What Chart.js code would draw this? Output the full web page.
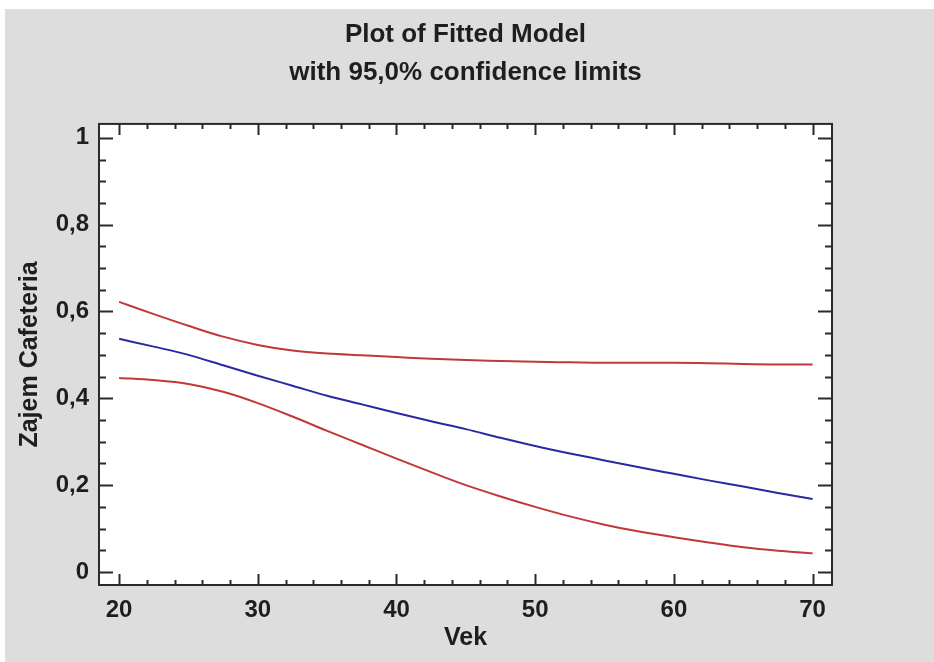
<!DOCTYPE html>
<html>
<head>
<meta charset="utf-8">
<title>Plot of Fitted Model</title>
<script src="https://cdn.jsdelivr.net/npm/chart.js@4.4.1/dist/chart.umd.min.js"></script>
<style>
    html, body { margin: 0; padding: 0; background: #ffffff; }
    #wrap { width: 934px; height: 662px; }
</style>
</head>
<body>
<div id="wrap"><canvas id="fitChart" width="934" height="662"></canvas></div>
<script>
// Ages (Vek) where the model was evaluated
const vek = [20, 22.5, 25, 27.5, 30, 32.5, 35, 37.5, 40, 42.5, 45, 47.5, 50, 52.5, 55, 57.5, 60, 62.5, 65, 67.5, 70];

// Fitted probability and 95% confidence limits
const fitted = [0.537, 0.519, 0.500, 0.476, 0.452, 0.429, 0.406, 0.386, 0.366, 0.347, 0.329, 0.309, 0.290, 0.273, 0.257, 0.241, 0.226, 0.211, 0.197, 0.182, 0.168];
const upperLimit = [0.622, 0.594, 0.567, 0.542, 0.523, 0.510, 0.503, 0.499, 0.495, 0.491, 0.488, 0.486, 0.484, 0.483, 0.482, 0.482, 0.482, 0.481, 0.479, 0.478, 0.478];
const lowerLimit = [0.447, 0.442, 0.433, 0.415, 0.389, 0.358, 0.325, 0.293, 0.261, 0.230, 0.200, 0.174, 0.150, 0.128, 0.109, 0.093, 0.080, 0.068, 0.057, 0.049, 0.043];

// Tick labels
const xTicks = [20, 30, 40, 50, 60, 70];
const yTicks = [0, 0.2, 0.4, 0.6, 0.8, 1];

const FONT = "'Liberation Sans', Arial, sans-serif";
const TEXT = '#1e1e1e';
const FRAME = '#2a2a2a';

const toPoints = (ys) => vek.map((x, i) => ({ x: x, y: ys[i] }));

// Panel background, white plot area, frame and inward ticks on all four sides
const framePlugin = {
    id: 'frame',
    beforeDraw(chart) {
        const ctx = chart.ctx;
        const a = chart.chartArea;
        ctx.save();
        ctx.fillStyle = '#ffffff';
        ctx.fillRect(0, 0, chart.width, chart.height);
        ctx.fillStyle = '#dddddd';
        ctx.fillRect(5, 9, chart.width - 5, chart.height - 9);
        ctx.fillStyle = '#ffffff';
        ctx.fillRect(a.left, a.top, a.right - a.left, a.bottom - a.top);
        ctx.restore();
    },
    afterDatasetsDraw(chart) {
        const ctx = chart.ctx;
        const a = chart.chartArea;
        const xs = chart.scales.x;
        const ys = chart.scales.y;
        ctx.save();
        ctx.strokeStyle = FRAME;
        ctx.lineWidth = 2;

        // x ticks: major every 10, minor every 2
        for (let v = 20; v <= 70.001; v += 2) {
            const px = Math.round(xs.getPixelForValue(v)) + 0.5;
            const len = (Math.abs(v % 10) < 0.001) ? 11 : 5;
            ctx.beginPath();
            ctx.moveTo(px, a.bottom);
            ctx.lineTo(px, a.bottom - len);
            ctx.moveTo(px, a.top);
            ctx.lineTo(px, a.top + len);
            ctx.stroke();
        }
        // y ticks: major every 0.2, minor every 0.05
        for (let i = 0; i <= 20; i++) {
            const v = i * 0.05;
            const py = Math.round(ys.getPixelForValue(v)) + 0.5;
            const len = (i % 4 === 0) ? 14 : 7;
            ctx.beginPath();
            ctx.moveTo(a.left, py);
            ctx.lineTo(a.left + len, py);
            ctx.moveTo(a.right, py);
            ctx.lineTo(a.right - len, py);
            ctx.stroke();
        }
        ctx.strokeRect(a.left, a.top, a.right - a.left, a.bottom - a.top);
        ctx.restore();
    }
};

new Chart(document.getElementById('fitChart'), {
    type: 'line',
    data: {
        datasets: [
            {
                label: 'Upper limit',
                data: toPoints(upperLimit),
                borderColor: '#c0383a',
                borderWidth: 2,
                pointRadius: 0,
                cubicInterpolationMode: 'monotone',
                fill: false
            },
            {
                label: 'Fitted',
                data: toPoints(fitted),
                borderColor: '#2a2aa0',
                borderWidth: 2,
                pointRadius: 0,
                cubicInterpolationMode: 'monotone',
                fill: false
            },
            {
                label: 'Lower limit',
                data: toPoints(lowerLimit),
                borderColor: '#c0383a',
                borderWidth: 2,
                pointRadius: 0,
                cubicInterpolationMode: 'monotone',
                fill: false
            }
        ]
    },
    options: {
        responsive: false,
        animation: false,
        events: [],
        layout: { padding: { left: 0, right: 102, top: 0, bottom: 0 } },
        plugins: {
            legend: { display: false },
            tooltip: { enabled: false },
            title: {
                display: true,
                text: ['Plot of Fitted Model', 'with 95,0% confidence limits'],
                color: TEXT,
                fullSize: false,
                font: { family: FONT, size: 26, weight: 'bold', lineHeight: 1.46 },
                padding: { top: 16, bottom: 32 }
            }
        },
        scales: {
            x: {
                type: 'linear',
                min: 18.55,
                max: 71.4,
                grid: { display: false, drawTicks: false },
                border: { display: false },
                afterBuildTicks: (scale) => { scale.ticks = xTicks.map(v => ({ value: v })); },
                afterFit: (scale) => { scale.height = 77; },
                ticks: {
                    color: TEXT,
                    padding: 11,
                    maxRotation: 0,
                    font: { family: FONT, size: 24, weight: 'bold' }
                },
                title: {
                    display: true,
                    text: 'Vek',
                    color: TEXT,
                    font: { family: FONT, size: 25, weight: 'bold', lineHeight: 1.2 },
                    padding: { top: 0, bottom: 9 }
                }
            },
            y: {
                type: 'linear',
                min: -0.03,
                max: 1.032,
                grid: { display: false, drawTicks: false },
                border: { display: false },
                afterBuildTicks: (scale) => { scale.ticks = yTicks.map(v => ({ value: v })); },
                afterFit: (scale) => { scale.width = 99; },
                ticks: {
                    color: TEXT,
                    padding: 10,
                    font: { family: FONT, size: 24, weight: 'bold' },
                    callback: (value) => String(value).replace('.', ',')
                },
                title: {
                    display: true,
                    text: 'Zajem Cafeteria',
                    color: TEXT,
                    font: { family: FONT, size: 25, weight: 'bold', lineHeight: 1.2 },
                    padding: { top: 15, bottom: 0 }
                }
            }
        }
    },
    plugins: [framePlugin]
});
</script>
</body>
</html>
